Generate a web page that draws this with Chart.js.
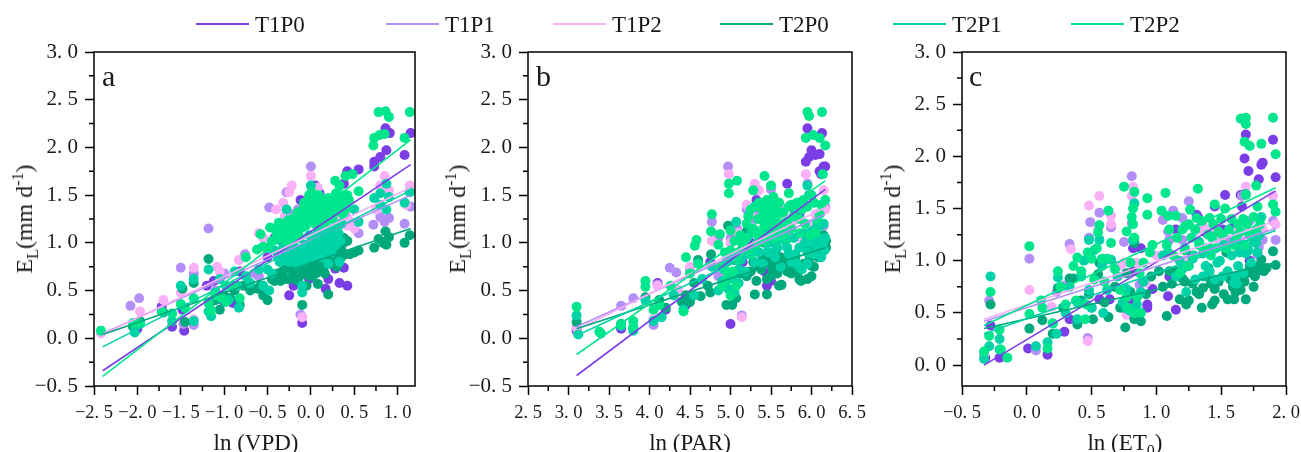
<!DOCTYPE html>
<html lang="en">
  <head>
    <meta charset="UTF-8" />
    <title>EL response panels</title>
    <script src="https://cdn.jsdelivr.net/npm/chart.js"></script>
    <style>
      body {
        margin: 0;
        background: #fff;
        width: 1301px;
        height: 452px;
        overflow: hidden;
        position: relative;
        font-family: "Liberation Serif", serif;
        color: #1a1a1a;
      }
      canvas { position: absolute; top: 0; }
      #pa { left: 0; }
      #pb { left: 434px; }
      #pc { left: 868px; }
      .txt { position: absolute; white-space: nowrap; line-height: 1; }
      .xt { font-size: 23px; top: 431px; transform: translateX(-50%); }
      .yt { font-size: 24px; top: 219px; transform: translate(-50%, -50%) rotate(-90deg); }
      .tag { font-size: 30px; top: 61px; }
      .lg { font-size: 23px; top: 13px; }
      .sw { position: absolute; top: 23px; height: 2px; width: 53px; }
      sub, sup { font-size: 16px; line-height: 0; }
    </style>
  </head>
  <body>
    <canvas id="pa" width="420" height="452"></canvas>
    <canvas id="pb" width="434" height="452"></canvas>
    <canvas id="pc" width="433" height="452"></canvas>

    <div class="txt tag" style="left:102px">a</div>
    <div class="txt tag" style="left:536px">b</div>
    <div class="txt tag" style="left:969px">c</div>
    <div class="txt xt" style="left:256px">ln (VPD)</div>
    <div class="txt xt" style="left:690px">ln (PAR)</div>
    <div class="txt xt" style="left:1125px">ln (ET<sub>0</sub>)</div>
    <div class="txt yt" style="left:24px">E<sub>L</sub>(mm d<sup>-1</sup>)</div>
    <div class="txt yt" style="left:457px">E<sub>L</sub>(mm d<sup>-1</sup>)</div>
    <div class="txt yt" style="left:892px">E<sub>L</sub>(mm d<sup>-1</sup>)</div>
    <div id="legend"></div>

    <script>
      const names = ["T1P0", "T1P1", "T1P2", "T2P0", "T2P1", "T2P2"];
      const colors = ["#7b3de6", "#b48ff7", "#f9b0f6", "#00a97c", "#00d3a7", "#00e68d"];
      const legendLine = [196, 386, 553, 720, 893, 1071];

      // panel a, ln(VPD) vs EL
      const aT1P0 = [[-2,0.1],[-1.72,0.33],[-1.6,0.12],[-1.48,0.3],[-1.46,0.08],[-1.2,0.55],[-1.12,0.6],[-1,0.38],[-0.9,0.37],[-0.82,0.7],[-0.5,0.85],[-0.25,0.45],[-0.2,0.55],[-0.12,1.45],[-0.1,0.16],[-0.02,0.62],[0.05,1.6],[0.1,1.52],[0.17,0.52],[0.2,0.62],[0.18,1.1],[0.28,0.73],[0.33,0.58],[0.38,1.62],[0.38,0.74],[0.42,0.55],[0.42,1.75],[0.55,1.77],[0.73,1.8],[0.73,1.85],[0.8,1.9],[0.86,2.2],[0.87,1.97],[0.91,2.15],[1.08,1.92],[1.15,2.15],[0.3,1],[-0.42,1.05],[0.35,1.42],[0.22,1.35]];
      const aT1P1 = [[-2.08,0.34],[-1.98,0.42],[-1.5,0.74],[-1.47,0.15],[-1.35,0.14],[-1.35,0.68],[-1.18,1.15],[-1.1,0.5],[-1,0.68],[-0.76,0.88],[-0.65,0.68],[-0.6,0.65],[-0.48,1.37],[-0.35,1.1],[-0.3,1.2],[-0.28,1.53],[-0.18,1.25],[-0.12,0.25],[0,1.8],[0.05,1.2],[0.12,0.9],[0.25,1.1],[0.4,1.28],[0.55,1.1],[0.72,1.19],[0.8,1.27],[0.85,1.22],[0.9,1.26],[1.08,1.2],[1.15,1.38],[0.5,1.17],[-0.24,1.3],[-0.15,1.35],[0.1,1.15],[0.28,1.25],[0.45,1.2],[0.33,1.22]];
      const aT1P2 = [[-2.42,0.05],[-1.97,0.28],[-1.7,0.4],[-1.5,0.48],[-1.35,0.74],[-1.35,0.2],[-1.05,0.7],[-1.08,0.75],[-0.83,0.82],[-0.6,1.1],[-0.55,1.05],[-0.4,1.35],[-0.32,1.42],[-0.25,1.53],[-0.22,1.6],[-0.12,1.3],[-0.1,0.22],[0,1.7],[0.08,1.58],[0.1,1.1],[0.25,1],[0.35,1.25],[0.45,1.22],[0.5,1.15],[0.85,1.7],[0.8,1.6],[0.75,1.35],[0.9,1.55],[1.1,1.4],[1.14,1.6],[-0.3,1.28],[-0.18,1.22],[0.3,1.3],[0.38,1.28],[0.42,1.18],[0.2,1.1]];
      const aT2P0 = [[-2.05,0.12],[-1.97,0.18],[-1.7,0.27],[-1.48,0.52],[-1.45,0.17],[-1.35,0.58],[-1.18,0.83],[-1.15,0.38],[-1.05,0.3],[-1,0.45],[-0.88,0.5],[-0.82,0.35],[-0.78,0.55],[-0.58,0.55],[-0.55,0.45],[-0.5,0.4],[-0.42,0.6],[-0.35,0.6],[-0.3,0.72],[-0.2,0.65],[-0.15,0.6],[-0.1,0.35],[-0.08,0.7],[-0.05,0.55],[0,0.72],[0.05,0.78],[0.08,0.57],[0.12,0.72],[0.18,0.82],[0.2,0.46],[0.27,0.95],[0.3,0.75],[0.38,1.05],[0.4,0.88],[0.45,0.88],[0.5,0.9],[0.55,0.92],[0.73,0.95],[0.78,1.04],[0.83,1],[0.86,1.12],[0.87,0.98],[0.9,1.06],[1.08,1],[1.14,1.08],[-0.25,0.62],[-0.12,0.75],[0.02,0.65],[0.15,0.75],[0.35,0.95],[-0.45,0.62],[-0.38,0.68],[-0.33,0.7],[-0.28,0.62],[-0.23,0.72],[-0.18,0.7],[-0.13,0.65],[-0.1,0.72],[-0.06,0.78],[-0.03,0.66],[0.01,0.8],[0.03,0.7],[0.06,0.68],[0.1,0.76],[0.13,0.85],[0.16,0.68],[0.2,0.88],[0.22,0.78],[0.25,0.9],[0.28,0.82],[0.32,0.9],[0.35,0.85],[0.37,1],[0.42,1.02],[-1.1,0.4],[-0.93,0.42],[-0.7,0.5],[-0.62,0.52]];
      const aT2P1 = [[-2.03,0.06],[-1.6,0.18],[-1.5,0.55],[-1.35,0.62],[-1.35,0.18],[-1.18,0.72],[-1.18,0.28],[-1.15,0.23],[-1.05,0.62],[-0.95,0.4],[-0.83,0.32],[-0.88,0.7],[-0.75,0.65],[-0.6,0.72],[-0.55,0.55],[-0.48,0.5],[-0.45,0.68],[-0.38,0.85],[-0.3,0.9],[-0.28,1.35],[-0.25,0.8],[-0.2,0.85],[-0.16,0.78],[-0.12,0.9],[-0.1,0.55],[-0.1,0.48],[-0.05,0.95],[0,1],[0,1.6],[0.05,0.9],[0.1,1],[0.15,1.05],[0.2,0.78],[0.22,1.1],[0.3,1.15],[0.33,0.8],[0.35,1.2],[0.5,1.35],[0.55,1.22],[0.73,1.47],[0.8,1.52],[0.8,1.4],[0.87,1.62],[0.87,1.35],[0.9,1.48],[1.08,1.42],[1.14,1.53],[-0.32,0.95],[-0.22,0.92],[-0.08,0.85],[0.03,0.97],[0.12,1.12],[0.2,1],[0.27,1.05],[-0.42,0.92],[-0.36,0.8],[-0.34,1.02],[-0.29,0.82],[-0.27,1],[-0.23,0.87],[-0.2,1.03],[-0.18,0.95],[-0.14,0.85],[-0.13,1.05],[-0.09,0.8],[-0.07,0.98],[-0.04,0.88],[-0.02,1.08],[0.01,0.84],[0.04,1.05],[0.06,0.92],[0.08,1.12],[0.11,0.95],[0.13,0.85],[0.16,1.15],[0.18,0.93],[0.21,1.05],[0.24,0.9],[0.26,1.15],[0.29,0.98],[0.32,1.1],[0.34,1.02],[-0.5,0.72],[-0.85,0.55],[-1.1,0.48],[-0.98,0.55],[-0.7,0.58]];
      const aT2P2 = [[-2.42,0.08],[-2.05,0.16],[-1.97,0.15],[-1.72,0.28],[-1.6,0.26],[-1.5,0.36],[-1.45,0.32],[-1.35,0.42],[-1.18,0.37],[-1.15,0.29],[-1.1,0.45],[-1.03,0.42],[-0.98,0.38],[-0.9,0.55],[-0.82,0.42],[-0.75,0.85],[-0.62,0.93],[-0.58,1.09],[-0.55,0.96],[-0.47,1.16],[-0.42,1.03],[-0.38,1.15],[-0.33,1.2],[-0.3,1.1],[-0.27,1.18],[-0.22,1.05],[-0.2,1.25],[-0.15,1.32],[-0.12,1.2],[-0.08,1.42],[-0.05,1.3],[-0.02,1.5],[0.02,1.35],[0.05,1.2],[0.08,1.42],[0.12,1.3],[0.15,1.38],[0.2,1.47],[0.25,1.25],[0.28,1.65],[0.33,1.6],[0.35,1.38],[0.4,1.7],[0.42,1.5],[0.48,1.72],[0.55,1.54],[0.72,2.02],[0.73,2.1],[0.79,2.13],[0.85,2.14],[0.78,2.37],[0.86,2.38],[0.9,2.32],[1.08,2.1],[1.14,2.37],[-0.35,1.08],[-0.28,1.13],[-0.18,1.12],[-0.1,1.16],[-0.03,1.22],[0,1.42],[0.05,1.48],[0.1,1.37],[0.18,1.25],[0.3,1.45],[0.38,1.42],[-0.4,1.12],[-0.37,1.21],[-0.33,1.06],[-0.31,1.17],[-0.26,1.24],[-0.24,1.1],[-0.21,1.16],[-0.17,1.28],[-0.14,1.08],[-0.11,1.27],[-0.09,1.35],[-0.06,1.18],[-0.04,1.4],[-0.01,1.26],[0.01,1.53],[0.03,1.44],[0.04,1.3],[0.06,1.37],[0.07,1.24],[0.09,1.5],[0.11,1.44],[0.13,1.22],[0.14,1.33],[0.16,1.45],[0.17,1.2],[0.19,1.35],[0.21,1.42],[0.23,1.3],[0.26,1.4],[0.29,1.52],[0.31,1.33],[0.34,1.46],[0.36,1.5],[0.37,1.3],[0.41,1.36],[0.44,1.45],[-0.45,1.02],[-0.5,0.95],[-0.28,1.02],[-0.16,1.12]];
      const aFitX = [-2.4, 1.15];
      const aFitT1P0 = [-0.34, 1.82];
      const aFitT1P1 = [0.05, 1.5];
      const aFitT1P2 = [0.04, 1.58];
      const aFitT2P0 = [0.04, 1.15];
      const aFitT2P1 = [-0.09, 1.55];
      const aFitT2P2 = [-0.4, 2.08];

      // panel b, ln(PAR) vs EL
      const bT1P0 = [[3.1,0.08],[3.65,0.1],[3.8,0.1],[4.1,0.58],[4.2,0.3],[4.35,0.5],[4.45,0.35],[4.75,0.8],[4.9,0.55],[5,0.15],[5.08,1.1],[5.15,0.8],[5.25,1],[5.32,1.45],[5.42,0.7],[5.45,0.55],[5.47,0.62],[5.5,0.6],[5.6,1.4],[5.7,1.62],[5.8,1.32],[5.85,1.3],[5.93,1.85],[5.95,2.2],[6,1.97],[6.05,1.92],[5.97,1.9],[6.1,1.93],[6.13,2.15],[6.1,1.75],[6.15,1.8],[6.17,1.8],[6.12,1.72],[5.55,0.75],[5.62,1.1],[5,0.85]];
      const bT1P1 = [[3.1,0.1],[3.65,0.34],[3.8,0.42],[4.05,0.14],[4.25,0.74],[4.33,0.69],[4.1,0.56],[4.5,0.72],[4.77,1.22],[4.85,1.05],[4.97,1.8],[5,1.05],[5.14,0.24],[5.08,1.15],[5.3,1.55],[5.3,1.25],[5.5,1.56],[5.55,1.4],[5.8,1.25],[5.95,1.62],[6.15,1.18],[6.17,1.38],[6.05,1.2],[5.7,1.1],[4.85,0.65],[5.2,1.35],[5.35,1.3]];
      const bT1P2 = [[3.1,0.12],[4.05,0.2],[4.1,0.55],[4.35,0.5],[4.77,1.02],[4.98,1.72],[5,1],[5.14,0.22],[5.3,1.62],[5.25,1.3],[5.4,1.25],[5.6,1.4],[5.7,1.25],[5.85,1.05],[5.93,1.72],[5.97,1.5],[6.15,1.55],[6.17,1.35],[6.05,1.3],[5.5,1.1],[6,1.2],[4.5,0.75],[5.1,1.1],[5.35,1.55],[5.2,1.4],[5.75,1.18]];
      const bT2P0 = [[3.1,0.17],[3.65,0.15],[3.8,0.1],[3.95,0.43],[4.12,0.4],[4.2,0.32],[4.4,0.38],[4.5,0.38],[4.55,0.58],[4.6,0.82],[4.63,0.44],[4.75,0.48],[4.76,0.88],[4.97,1.18],[4.95,0.35],[5.02,0.35],[5.07,0.42],[5.05,0.82],[5.15,0.95],[5.2,0.65],[5.2,1.12],[5.3,0.46],[5.32,0.6],[5.35,0.75],[5.42,1],[5.45,0.46],[5.5,0.65],[5.55,0.78],[5.6,0.55],[5.63,0.56],[5.7,0.7],[5.78,0.72],[5.85,0.62],[5.87,0.6],[5.95,0.62],[6,0.76],[6,0.65],[6.02,0.9],[6.05,1],[6.08,0.85],[6.12,0.88],[6.15,1.08],[6.18,0.95],[6.1,1],[5.95,1.05],[5.4,0.85],[5.55,0.9],[5.7,0.85],[5.12,0.68],[5.25,0.7],[5.28,0.8],[5.38,0.72],[5.45,0.62],[5.48,0.8],[5.52,0.72],[5.58,0.68],[5.62,0.85],[5.66,0.78],[5.72,0.8],[5.75,0.68],[5.8,0.85],[5.83,0.7],[5.9,0.78],[5.92,0.95],[5.97,0.98],[6.03,0.75],[6.05,0.88],[6.08,1.08],[6.1,0.92],[6.13,0.98],[6.16,1],[6.18,1.02],[5.98,0.85],[6.03,1.1],[4.72,0.55],[4.45,0.45],[4.5,0.42]];
      const bT2P1 = [[3.1,0.24],[3.12,0.04],[3.4,0.05],[3.65,0.13],[3.8,0.08],[3.95,0.4],[4.05,0.18],[4.15,0.22],[4.3,0.45],[4.42,0.3],[4.55,0.45],[4.65,0.62],[4.77,0.75],[4.85,0.5],[4.9,0.6],[4.95,0.8],[5,0.65],[5.05,0.48],[5.07,1.22],[5.1,0.72],[5.2,1.05],[5.28,0.95],[5.35,0.9],[5.38,1.25],[5.45,1],[5.5,1.15],[5.55,0.85],[5.6,1.05],[5.7,0.95],[5.75,0.8],[5.85,0.75],[5.9,1.1],[5.95,1.6],[5.97,1.5],[6,1],[6.05,1.15],[6.12,0.85],[6.15,1.2],[6.17,1.05],[5.95,0.9],[5.65,1.1],[5.8,0.88],[6.08,1.05],[4.92,0.72],[4.97,0.52],[5.02,0.85],[5.05,0.62],[5.1,0.58],[5.13,0.82],[5.18,0.7],[5.2,0.88],[5.25,1.1],[5.3,0.8],[5.33,1],[5.4,0.78],[5.42,1.1],[5.47,0.9],[5.52,1],[5.58,0.95],[5.62,0.75],[5.68,1.02],[5.72,0.88],[5.78,1.05],[5.82,0.78],[5.85,0.95],[5.88,0.72],[5.92,1],[5.95,0.78],[6,1.12],[6.02,0.88],[6.07,0.95],[6.1,1.18],[6.14,1],[6.16,0.92]];
      const bT2P2 = [[3.1,0.33],[3.38,0.07],[3.65,0.15],[3.8,0.12],[3.8,0.18],[3.95,0.6],[3.95,0.54],[4.05,0.3],[4.12,0.35],[4.26,0.55],[4.42,0.28],[4.45,0.85],[4.5,0.68],[4.58,1.03],[4.56,0.97],[4.6,0.78],[4.77,1.3],[4.76,1.12],[4.85,0.98],[4.87,1.09],[4.9,0.55],[4.95,0.7],[5,1.13],[4.98,1.62],[4.98,1.52],[5.08,1.65],[5,0.45],[5.1,0.9],[5.15,1],[5.2,1.2],[5.2,1.05],[5.28,1.55],[5.25,1.35],[5.35,1.42],[5.38,1.25],[5.42,1.7],[5.45,1.45],[5.48,1.3],[5.5,1.6],[5.55,1.38],[5.55,1.15],[5.6,1.3],[5.65,1.2],[5.72,1.52],[5.75,1.4],[5.8,1.38],[5.85,1.25],[5.9,1.45],[5.93,2.1],[5.95,2.37],[5.97,2.33],[6.02,2.13],[6.1,2.1],[6.13,2.37],[6.14,1.72],[6.17,2.02],[6,1.5],[6.1,1.3],[6.17,1.45],[6.05,1.1],[5.3,1.12],[5.42,1.18],[5.5,1.42],[5.58,1.2],[5.35,1.05],[5,0.92],[5.05,1.02],[5.08,0.82],[5.12,1.08],[5.18,0.95],[5.22,1.28],[5.25,0.88],[5.28,1.15],[5.3,1.38],[5.32,0.98],[5.34,1.25],[5.37,1.1],[5.4,1.33],[5.4,1.42],[5.43,1.02],[5.45,1.22],[5.47,1.38],[5.5,1.25],[5.52,1.08],[5.53,1.48],[5.55,1.3],[5.57,1.02],[5.6,1.42],[5.62,1.12],[5.65,1.32],[5.68,1.05],[5.7,1.22],[5.72,1.38],[5.75,1.15],[5.78,1.28],[5.82,1.42],[5.85,1.1],[5.88,1.35],[5.92,1.2],[5.95,1.38],[5.98,1.08],[6.03,1.42],[6.07,1.22],[6.12,1.4],[4.95,0.6],[4.88,0.75],[4.93,0.9],[5.03,0.7],[5.07,0.55]];
      const bFitX = [3.1, 6.17];
      const bFitT1P0 = [-0.39, 1.56];
      const bFitT1P1 = [0.12, 1.3];
      const bFitT1P2 = [0.09, 1.37];
      const bFitT2P0 = [0.1, 0.95];
      const bFitT2P1 = [0.03, 1.23];
      const bFitT2P2 = [-0.17, 1.65];

      // panel c, ln(ET0) vs EL
      const cT1P0 = [[-0.32,0.07],[-0.28,0.38],[-0.21,0.07],[0.01,0.16],[0.16,0.1],[0.29,0.32],[0.33,0.44],[0.56,0.63],[0.64,0.63],[0.74,0.55],[0.82,1.12],[0.88,1.12],[0.93,0.58],[0.93,0.55],[0.97,0.73],[1.09,0.66],[1.15,0.53],[1.15,1.3],[1.31,1.44],[1.45,1.52],[1.53,1.63],[1.51,1.3],[1.59,1.32],[1.65,1.63],[1.68,1.98],[1.69,2.21],[1.71,1.86],[1.79,1.78],[1.81,1.92],[1.82,1.94],[1.9,2.16],[1.92,1.8],[1.38,1.27],[1.66,1.52],[1.1,0.85],[1.32,1.42],[1.5,1.22],[1.25,1.05],[1.72,1],[0.82,0.9],[0.8,0.6]];
      const cT1P1 = [[-0.33,0.12],[-0.29,0.62],[0.02,1.02],[0.47,0.26],[0.07,0.14],[0.33,1.16],[0.49,1.37],[0.56,1.46],[0.48,1.22],[0.65,1.32],[0.75,1.18],[0.81,1.81],[0.81,1.36],[1.05,1.39],[1.13,1.48],[1.09,1.28],[1.2,1.41],[1.25,1.57],[1.49,1.2],[1.78,1.06],[1.79,1.13],[1.9,1.38],[1.92,1.2],[1.66,1.62],[1.82,1.2],[0.23,0.7],[0.29,0.76],[0.87,0.77],[1.35,1.35],[1.2,1.2],[1.45,1.3],[1.72,1.38],[1.55,1.2],[0.6,1],[0.7,0.95],[1.1,1.2]];
      const cT1P2 = [[-0.33,0.1],[0.02,0.72],[0.47,0.23],[0.48,1.53],[0.56,1.62],[0.65,1.43],[0.65,1.35],[0.34,1.11],[0.75,0.98],[0.82,1.71],[0.81,1.62],[0.77,0.48],[0.19,0.56],[1.36,1.3],[1.41,1.3],[1.69,1.71],[1.69,1.24],[1.92,1.35],[1.9,1.62],[1.23,1.01],[0.92,0.79],[1.61,1.27],[1.78,1.27],[1,1.05],[1.3,1.28],[1.45,1.22],[1.5,1.18],[1.72,1.28],[1.82,1.3],[0.55,1.3],[0.72,0.95],[0.85,0.98],[0.4,0.6]];
      const cT2P0 = [[-0.28,0.58],[0.02,0.35],[0.12,0.43],[0.24,0.74],[0.33,0.83],[0.36,0.83],[0.39,0.39],[0.48,0.68],[0.51,0.44],[0.56,0.98],[0.55,0.87],[0.63,0.46],[0.76,0.36],[0.77,0.88],[0.83,1.17],[0.83,0.44],[0.88,0.42],[0.96,0.85],[1.08,0.47],[1.1,0.9],[1.18,0.63],[1.23,0.58],[1.25,0.62],[1.31,0.7],[1.35,0.55],[1.43,0.58],[1.45,0.62],[1.45,0.73],[1.55,0.63],[1.6,0.63],[1.61,0.7],[1.63,0.77],[1.69,0.63],[1.74,0.92],[1.81,1.01],[1.78,0.9],[1.9,1.09],[1.92,0.96],[1.54,1.08],[1.66,0.86],[1.36,0.74],[1.2,0.83],[0.2,0.3],[0.28,0.55],[0.42,0.62],[0.5,0.55],[0.6,0.6],[0.68,0.75],[0.72,0.55],[0.8,0.7],[0.85,0.48],[0.92,0.68],[1.02,0.9],[1.05,0.75],[1.12,0.78],[1.15,0.9],[1.22,0.8],[1.28,0.78],[1.33,0.68],[1.38,0.85],[1.4,0.93],[1.42,0.78],[1.48,0.8],[1.52,0.68],[1.57,0.82],[1.59,0.75],[1.65,0.72],[1.68,0.8],[1.7,0.88],[1.72,0.95],[1.76,0.85],[1.79,0.95],[1.83,0.9],[1.85,0.93],[1.75,0.75]];
      const cT2P1 = [[-0.33,0.06],[-0.29,0.18],[-0.28,0.85],[-0.21,0.25],[-0.21,0.15],[0.07,0.18],[0.16,0.22],[0.24,0.84],[0.23,0.3],[0.39,0.6],[0.39,0.44],[0.48,1.2],[0.56,1.2],[0.65,1.01],[0.59,0.5],[0.77,0.73],[0.77,0.54],[0.82,1.2],[0.83,1.55],[0.88,0.7],[1.05,1.05],[1.09,1.08],[1.23,0.7],[1.25,0.95],[1.36,0.85],[1.41,0.9],[1.51,0.85],[1.6,0.79],[1.61,0.85],[1.64,1.08],[1.69,1.64],[1.69,1.07],[1.77,1.17],[1.79,1.24],[1.81,1.42],[1.49,1],[1.36,1.07],[0.33,0.75],[0.48,0.72],[1.15,0.85],[1.18,1],[1.2,0.92],[1.22,1.12],[1.28,1.02],[1.3,0.82],[1.33,1.18],[1.38,0.95],[1.42,1.12],[1.45,0.82],[1.47,0.98],[1.52,1.15],[1.55,0.9],[1.58,1.05],[1.6,1.18],[1.62,0.78],[1.63,0.95],[1.66,1.15],[1.67,0.88],[1.71,1.1],[1.73,0.98],[1.75,1.18],[1.78,1.08],[0.42,0.85],[0.5,0.55],[0.52,1.1],[0.58,0.95],[0.62,0.72],[0.7,0.85],[0.74,0.6],[0.8,0.52],[0.85,0.58],[0.9,0.8],[0.3,0.5],[0.44,1],[0.2,0.4]];
      const cT2P2 = [[-0.33,0.13],[-0.29,0.28],[-0.28,0.7],[-0.21,0.34],[-0.15,0.07],[0.02,1.14],[0.02,0.49],[0.11,0.62],[0.16,0.16],[0.24,0.9],[0.36,0.95],[0.39,1.03],[0.45,0.44],[0.47,1.08],[0.55,1.27],[0.56,1.34],[0.63,1.48],[0.65,1.17],[0.75,1.71],[0.77,1.28],[0.82,1.35],[0.83,1.66],[0.82,1.5],[0.81,1.42],[0.83,1.22],[0.77,0.65],[0.83,0.5],[0.88,0.5],[0.93,1.44],[0.93,1.6],[0.97,1.15],[1.07,1.65],[1.04,1.48],[1.09,1.43],[1.15,1.43],[1.22,1.33],[1.26,1.49],[1.32,1.69],[1.31,1.41],[1.41,1.41],[1.45,1.54],[1.43,1.22],[1.53,1.5],[1.51,1.25],[1.62,1.24],[1.67,1.4],[1.65,2.36],[1.69,2.37],[1.69,2.31],[1.68,2.14],[1.72,2.1],[1.77,1.72],[1.81,2.12],[1.78,1.52],[1.9,2.37],[1.92,2.02],[1.9,1.54],[1.92,1.47],[1.69,1.63],[1.08,1.15],[1.1,1.3],[1.13,1.05],[1.16,1.22],[1.18,0.88],[1.2,1.3],[1.22,1.1],[1.24,0.95],[1.25,1.35],[1.27,1.22],[1.29,1.05],[1.3,1.3],[1.33,1.15],[1.35,1.38],[1.37,1.12],[1.4,1.25],[1.42,1.05],[1.44,1.35],[1.46,1.12],[1.48,1.28],[1.5,1.4],[1.54,1.12],[1.56,1.3],[1.58,1.4],[1.6,1.15],[1.63,1.35],[1.65,1.28],[1.68,1.15],[1.7,1.35],[1.72,1.25],[1.75,1.42],[1.77,1.3],[1.8,1.35],[0.38,0.62],[0.42,0.9],[0.46,0.58],[0.5,1.02],[0.52,0.82],[0.54,1.12],[0.58,1.02],[0.6,0.8],[0.62,1.02],[0.68,0.92],[0.72,0.72],[0.78,0.55],[0.8,0.98],[0.85,0.65],[0.87,0.88],[0.9,0.98],[0.95,1.08],[0.3,0.58],[0.26,0.75],[0.2,0.4],[0.12,0.55],[-0.2,0.15]];
      const cFitX = [-0.33, 1.92];
      const cFitT1P0 = [0, 1.67];
      const cFitT1P1 = [0.42, 1.31];
      const cFitT1P2 = [0.44, 1.38];
      const cFitT2P0 = [0.35, 0.98];
      const cFitT2P1 = [0.3, 1.29];
      const cFitT2P2 = [0.38, 1.7];

      // legend sits above all three panels so it lives outside the charts
      const legend = document.getElementById("legend");
      names.forEach((n, i) => {
        const sw = document.createElement("div");
        sw.className = "sw";
        sw.style.left = legendLine[i] + "px";
        sw.style.background = colors[i];
        legend.appendChild(sw);
        const t = document.createElement("div");
        t.className = "txt lg";
        t.style.left = legendLine[i] + 59 + "px";
        t.textContent = n;
        legend.appendChild(t);
      });

      // box round the plot plus the short minor ticks
      const frame = {
        id: "frame",
        afterDraw(chart) {
          const { ctx, chartArea: a, scales } = chart;
          ctx.save();
          ctx.strokeStyle = "#000";
          ctx.lineWidth = 1.5;
          ctx.strokeRect(a.left, a.top, a.right - a.left, a.bottom - a.top);
          ctx.beginPath();
          for (const s of [scales.x, scales.y]) {
            const vals = s.ticks.map((t) => t.value + 0.25);
            vals.push(s.ticks[0].value - 0.25);
            vals.forEach((v) => {
              if (v < s.min || v > s.max) return;
              const p = s.getPixelForValue(v);
              if (s === scales.x) {
                ctx.moveTo(p, a.bottom);
                ctx.lineTo(p, a.bottom + 5);
              } else {
                ctx.moveTo(a.left, p);
                ctx.lineTo(a.left - 5, p);
              }
            });
          }
          ctx.stroke();
          ctx.restore();
        },
      };

      function tickText(v) {
        return v.toFixed(1).replace(".", ". ").replace("-", "\u2212");
      }

      function axis(min, max, fit, fontSize) {
        return {
          type: "linear",
          min: min,
          max: max,
          afterFit: fit,
          grid: { drawOnChartArea: false, tickLength: 9, tickColor: "#000", tickWidth: 1.5 },
          border: { display: false },
          ticks: {
            stepSize: 0.5,
            includeBounds: false,
            autoSkip: false,
            maxRotation: 0,
            color: "#1a1a1a",
            padding: 7,
            font: { family: "Liberation Serif", size: fontSize },
            callback: tickText,
          },
        };
      }

      function panel(id, points, fitX, fits, xMin, xMax, yMin, padRight) {
        const sets = [];
        names.forEach((n, i) => {
          sets.push({
            label: n,
            data: points[i].map((p) => ({ x: p[0], y: p[1] })),
            backgroundColor: colors[i],
            borderWidth: 0,
            pointRadius: 5,
            order: 20 - i,
          });
        });
        names.forEach((n, i) => {
          sets.push({
            label: n + " fit",
            data: fitX.map((x, k) => ({ x: x, y: fits[i][k] })),
            showLine: true,
            borderColor: colors[i],
            borderWidth: 1.6,
            pointRadius: 0,
            order: 10 - i,
          });
        });
        new Chart(document.getElementById(id), {
          type: "scatter",
          data: { datasets: sets },
          plugins: [frame],
          options: {
            responsive: false,
            animation: false,
            layout: { padding: { top: 52, right: padRight } },
            plugins: { legend: { display: false }, tooltip: { enabled: false } },
            scales: {
              x: axis(xMin, xMax, (s) => {
                s.height = 66;
                s.paddingLeft = 0;
                s.paddingRight = 0;
              }, 18.5),
              y: axis(yMin, 3, (s) => {
                s.width = 94;
                s.paddingTop = 0;
                s.paddingBottom = 0;
              }, 21),
            },
          },
        });
      }

      panel("pa", [aT1P0, aT1P1, aT1P2, aT2P0, aT2P1, aT2P2], aFitX,
        [aFitT1P0, aFitT1P1, aFitT1P2, aFitT2P0, aFitT2P1, aFitT2P2], -2.5, 1.2, -0.5, 2);
      panel("pb", [bT1P0, bT1P1, bT1P2, bT2P0, bT2P1, bT2P2], bFitX,
        [bFitT1P0, bFitT1P1, bFitT1P2, bFitT2P0, bFitT2P1, bFitT2P2], 2.5, 6.5, -0.5, 16);
      panel("pc", [cT1P0, cT1P1, cT1P2, cT2P0, cT2P1, cT2P2], cFitX,
        [cFitT1P0, cFitT1P1, cFitT1P2, cFitT2P0, cFitT2P1, cFitT2P2], -0.5, 2, -0.2, 15);
    </script>
  </body>
</html>
